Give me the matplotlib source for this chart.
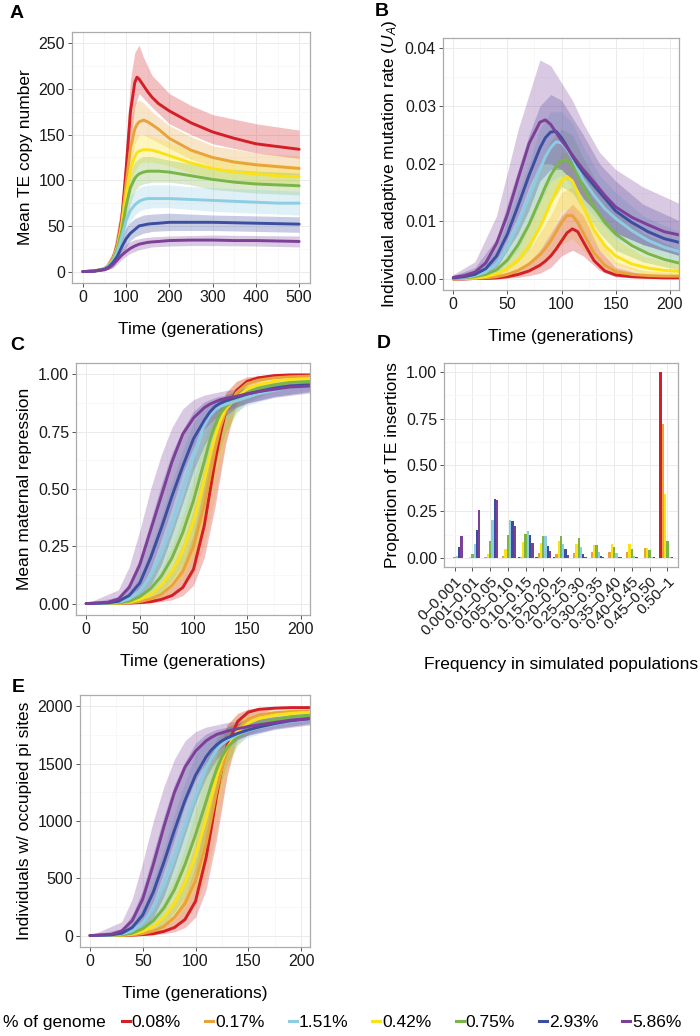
import matplotlib
matplotlib.use('Agg')
import numpy as np
import matplotlib.pyplot as plt
from matplotlib.lines import Line2D
from matplotlib.ticker import MultipleLocator

plt.rcParams['font.family'] = ['Liberation Sans', 'DejaVu Sans']
plt.rcParams['mathtext.fontset'] = 'custom'
plt.rcParams['mathtext.it'] = 'Liberation Sans:italic'
plt.rcParams['mathtext.rm'] = 'Liberation Sans'

# series in order of % genome
series = ['0.08%', '0.17%', '0.42%', '0.75%', '1.51%', '2.93%', '5.86%']
colors = ['#D41F26', '#E8A33A', '#FBE216', '#7AB547', '#8CCDE3', '#3B4EA0', '#7D3F98']
legend_order = ['0.08%', '0.17%', '1.51%', '0.42%', '0.75%', '2.93%', '5.86%']

# ---- A: mean TE copy number ----
t_a = [0, 25, 50, 60, 70, 80, 90, 100, 110, 120, 125, 130, 140, 150, 160, 175, 200, 250, 300, 350, 400, 450, 500]
a_mean = [
    [0, 0.5, 3, 7, 15, 30, 58, 112, 175, 207, 213, 211, 204, 197, 191, 184, 176, 163, 153, 146, 140, 137, 134],
    [0, 0.5, 3, 7, 14, 28, 54, 96, 135, 156, 161, 164, 166, 164, 161, 156, 146, 133, 125, 120, 117, 115, 113],
    [0, 0.5, 3, 7, 14, 27, 50, 84, 112, 126, 130, 132, 133.5, 133.5, 133, 131, 127, 119, 113, 109, 107, 105, 104],
    [0, 0.5, 3, 6.5, 13, 25, 45, 72, 92, 102, 105, 107, 109, 110, 110, 110, 109, 105, 101, 98, 96, 95, 94],
    [0, 0.5, 3, 6, 12, 22, 38, 56, 67, 73, 75, 77, 79, 80, 80, 80, 80, 79, 78, 77, 76, 75, 75],
    [0, 0.5, 2.5, 5, 10, 17, 27, 36, 42, 46, 48, 50, 51, 52, 52.5, 53, 54, 54, 54, 53.5, 53, 52.5, 52],
    [0, 0.4, 2, 4, 8, 13, 18, 22, 25.5, 28, 29, 30, 31, 32, 32.5, 33, 34, 34.5, 34.5, 34, 34, 33.5, 33],
]
tb_a = [0, 50, 70, 90, 100, 110, 120, 130, 140, 160, 200, 250, 300, 400, 500]
a_lo = [
    [0, 2, 10, 40, 80, 140, 180, 195, 190, 180, 162, 150, 140, 130, 124],
    [0, 2, 9, 35, 70, 110, 140, 150, 150, 145, 135, 123, 115, 108, 104],
    [0, 2, 8, 32, 62, 92, 110, 118, 120, 120, 116, 108, 103, 98, 95],
    [0, 2, 7, 30, 55, 75, 88, 94, 96, 98, 98, 95, 90, 86, 84],
    [0, 1.5, 6, 25, 42, 55, 62, 66, 68, 70, 70, 68, 66, 64, 62],
    [0, 1, 5, 18, 27, 34, 38, 40, 42, 44, 45, 45, 45, 44, 43],
    [0, 1, 4, 13, 17, 20, 22, 24, 25, 27, 28, 28.5, 28.5, 28, 27],
]
a_hi = [
    [0, 5, 22, 75, 140, 210, 240, 248, 235, 215, 195, 182, 172, 162, 155],
    [0, 5, 20, 70, 120, 165, 185, 188, 185, 175, 160, 148, 138, 130, 127],
    [0, 5, 18, 62, 105, 135, 148, 150, 150, 148, 142, 132, 126, 120, 116],
    [0, 4, 16, 56, 90, 110, 120, 124, 126, 126, 122, 118, 114, 110, 108],
    [0, 4, 14, 50, 72, 83, 88, 92, 94, 95, 95, 93, 92, 90, 88],
    [0, 3, 12, 38, 48, 54, 58, 60, 62, 63, 64, 63, 62, 61, 60],
    [0, 3, 10, 25, 30, 33, 35, 36, 37, 38, 39, 39.5, 40, 39.5, 39],
]

# ---- B: individual adaptive mutation rate ----
t_b = [0, 10, 20, 30, 40, 50, 60, 70, 80, 85, 90, 95, 100, 105, 110, 115, 120, 130, 140, 150, 165, 180, 195, 210]
b_mean = [
    [0, 0, 0.0001, 0.0001, 0.0002, 0.0004, 0.0008, 0.0014, 0.0024, 0.0031, 0.0040, 0.0052, 0.0066, 0.0080, 0.0087, 0.0082, 0.0065, 0.0032, 0.0014, 0.0007, 0.0004, 0.0003, 0.0002, 0.0002],
    [0, 0.0001, 0.0001, 0.0002, 0.0004, 0.0008, 0.0015, 0.0026, 0.0042, 0.0053, 0.0066, 0.0082, 0.0098, 0.0110, 0.0110, 0.0098, 0.0080, 0.0045, 0.0024, 0.0013, 0.0008, 0.0006, 0.0005, 0.0005],
    [0.0001, 0.0001, 0.0002, 0.0004, 0.0009, 0.0018, 0.0033, 0.0057, 0.0090, 0.0110, 0.0132, 0.0152, 0.0170, 0.0178, 0.0170, 0.0150, 0.0125, 0.0085, 0.0058, 0.0040, 0.0026, 0.0019, 0.0015, 0.0013],
    [0.0001, 0.0002, 0.0004, 0.0008, 0.0016, 0.0033, 0.0060, 0.0095, 0.0138, 0.0160, 0.0180, 0.0195, 0.0205, 0.0207, 0.0198, 0.0180, 0.0160, 0.0125, 0.0098, 0.0078, 0.0058, 0.0044, 0.0034, 0.0027],
    [0.0002, 0.0003, 0.0006, 0.0012, 0.0027, 0.0055, 0.0095, 0.0142, 0.0190, 0.0212, 0.0228, 0.0238, 0.0236, 0.0226, 0.0210, 0.0190, 0.0172, 0.0145, 0.0122, 0.0105, 0.0084, 0.0067, 0.0055, 0.0047],
    [0.0002, 0.0004, 0.0008, 0.0018, 0.0040, 0.0078, 0.0128, 0.0180, 0.0227, 0.0245, 0.0255, 0.0256, 0.0245, 0.0230, 0.0213, 0.0198, 0.0185, 0.0162, 0.0140, 0.0118, 0.0098, 0.0082, 0.0070, 0.0063],
    [0.0003, 0.0006, 0.0012, 0.0028, 0.0062, 0.0112, 0.0175, 0.0235, 0.0272, 0.0276, 0.0268, 0.0254, 0.0240, 0.0228, 0.0215, 0.0202, 0.0190, 0.0168, 0.0145, 0.0125, 0.0107, 0.0094, 0.0082, 0.0076],
]
tb_b = [0, 20, 40, 60, 70, 80, 90, 100, 110, 120, 135, 150, 175, 210]
b_lo = [
    [0, 0, 0, 0.0003, 0.0006, 0.001, 0.002, 0.004, 0.005, 0.004, 0.0015, 0.0004, 0.0001, 0.0001],
    [0, 0, 0.0001, 0.0006, 0.0012, 0.002, 0.004, 0.006, 0.007, 0.005, 0.002, 0.0008, 0.0003, 0.0002],
    [0, 0, 0.0003, 0.0015, 0.003, 0.005, 0.008, 0.012, 0.012, 0.009, 0.005, 0.0025, 0.001, 0.0006],
    [0, 0.0001, 0.0006, 0.003, 0.005, 0.009, 0.013, 0.016, 0.015, 0.012, 0.008, 0.005, 0.003, 0.0015],
    [0.0001, 0.0002, 0.001, 0.005, 0.009, 0.013, 0.017, 0.018, 0.016, 0.013, 0.010, 0.007, 0.005, 0.003],
    [0.0001, 0.0003, 0.002, 0.008, 0.012, 0.017, 0.019, 0.019, 0.017, 0.014, 0.011, 0.008, 0.006, 0.004],
    [0.0001, 0.0005, 0.003, 0.011, 0.016, 0.020, 0.020, 0.019, 0.017, 0.014, 0.011, 0.008, 0.006, 0.004],
]
b_hi = [
    [0.0001, 0.0002, 0.0006, 0.0016, 0.003, 0.005, 0.008, 0.011, 0.013, 0.011, 0.005, 0.002, 0.0008, 0.0005],
    [0.0001, 0.0003, 0.001, 0.003, 0.005, 0.008, 0.011, 0.015, 0.016, 0.013, 0.007, 0.003, 0.0015, 0.001],
    [0.0002, 0.0006, 0.002, 0.006, 0.010, 0.014, 0.018, 0.022, 0.022, 0.018, 0.011, 0.007, 0.004, 0.0025],
    [0.0003, 0.001, 0.003, 0.010, 0.015, 0.020, 0.024, 0.026, 0.025, 0.021, 0.016, 0.012, 0.008, 0.005],
    [0.0005, 0.0014, 0.005, 0.015, 0.020, 0.026, 0.029, 0.029, 0.027, 0.023, 0.018, 0.015, 0.011, 0.008],
    [0.0006, 0.002, 0.007, 0.019, 0.025, 0.030, 0.032, 0.031, 0.028, 0.025, 0.020, 0.017, 0.013, 0.010],
    [0.0008, 0.003, 0.011, 0.026, 0.032, 0.038, 0.037, 0.034, 0.031, 0.027, 0.022, 0.019, 0.016, 0.013],
]

# ---- C: mean maternal repression ----
t_c = [0, 20, 30, 40, 50, 60, 70, 80, 90, 100, 110, 115, 120, 125, 130, 140, 150, 160, 175, 190, 210]
c_mean = [
    [0, 0, 0.001, 0.002, 0.004, 0.008, 0.018, 0.035, 0.07, 0.15, 0.34, 0.48, 0.62, 0.74, 0.84, 0.93, 0.97, 0.985, 0.995, 0.998, 0.998],
    [0, 0, 0.001, 0.003, 0.008, 0.02, 0.04, 0.08, 0.14, 0.25, 0.43, 0.55, 0.67, 0.77, 0.84, 0.92, 0.96, 0.975, 0.985, 0.99, 0.993],
    [0, 0, 0.002, 0.006, 0.018, 0.04, 0.08, 0.14, 0.23, 0.36, 0.54, 0.64, 0.73, 0.8, 0.85, 0.9, 0.935, 0.955, 0.97, 0.978, 0.982],
    [0, 0.001, 0.003, 0.01, 0.03, 0.065, 0.12, 0.2, 0.31, 0.45, 0.62, 0.71, 0.78, 0.83, 0.86, 0.895, 0.92, 0.94, 0.955, 0.965, 0.97],
    [0, 0.002, 0.006, 0.02, 0.055, 0.12, 0.22, 0.35, 0.5, 0.65, 0.78, 0.82, 0.845, 0.86, 0.87, 0.885, 0.9, 0.915, 0.93, 0.945, 0.955],
    [0, 0.003, 0.01, 0.035, 0.09, 0.2, 0.33, 0.47, 0.6, 0.72, 0.8, 0.835, 0.86, 0.875, 0.885, 0.9, 0.915, 0.925, 0.94, 0.95, 0.955],
    [0, 0.005, 0.02, 0.07, 0.17, 0.32, 0.47, 0.62, 0.74, 0.81, 0.855, 0.87, 0.88, 0.89, 0.895, 0.905, 0.915, 0.925, 0.935, 0.945, 0.95],
]
tb_c = [0, 30, 40, 50, 60, 70, 80, 90, 100, 110, 120, 130, 140, 150, 175, 210]
c_lo = [
    [0, 0, 0, 0.001, 0.003, 0.008, 0.016, 0.035, 0.08, 0.2, 0.42, 0.7, 0.88, 0.95, 0.99, 0.995],
    [0, 0, 0, 0.002, 0.006, 0.015, 0.035, 0.07, 0.13, 0.25, 0.46, 0.7, 0.86, 0.93, 0.975, 0.985],
    [0, 0, 0.001, 0.005, 0.015, 0.035, 0.07, 0.12, 0.21, 0.35, 0.55, 0.74, 0.85, 0.9, 0.95, 0.97],
    [0, 0, 0.002, 0.008, 0.025, 0.05, 0.1, 0.17, 0.28, 0.43, 0.6, 0.75, 0.83, 0.88, 0.93, 0.955],
    [0, 0, 0.005, 0.02, 0.05, 0.1, 0.19, 0.31, 0.46, 0.6, 0.72, 0.8, 0.84, 0.865, 0.9, 0.93],
    [0, 0, 0.01, 0.03, 0.08, 0.17, 0.3, 0.44, 0.58, 0.69, 0.77, 0.82, 0.855, 0.875, 0.905, 0.925],
    [0, 0, 0.02, 0.06, 0.15, 0.28, 0.42, 0.57, 0.68, 0.76, 0.81, 0.84, 0.86, 0.875, 0.9, 0.92],
]
c_hi = [
    [0, 0.002, 0.005, 0.012, 0.025, 0.05, 0.09, 0.17, 0.3, 0.52, 0.77, 0.92, 0.97, 0.99, 1.0, 1.0],
    [0, 0.003, 0.008, 0.02, 0.045, 0.09, 0.16, 0.26, 0.41, 0.6, 0.8, 0.92, 0.97, 0.985, 0.995, 1.0],
    [0, 0.006, 0.015, 0.04, 0.08, 0.15, 0.25, 0.38, 0.54, 0.71, 0.84, 0.91, 0.94, 0.96, 0.98, 0.99],
    [0, 0.01, 0.025, 0.06, 0.12, 0.21, 0.33, 0.47, 0.63, 0.76, 0.86, 0.91, 0.935, 0.95, 0.97, 0.98],
    [0, 0.02, 0.05, 0.12, 0.24, 0.38, 0.53, 0.67, 0.79, 0.86, 0.89, 0.905, 0.92, 0.93, 0.955, 0.97],
    [0, 0.03, 0.09, 0.2, 0.36, 0.52, 0.66, 0.76, 0.84, 0.88, 0.9, 0.91, 0.925, 0.935, 0.955, 0.97],
    [0, 0.06, 0.16, 0.32, 0.5, 0.65, 0.77, 0.85, 0.89, 0.91, 0.92, 0.93, 0.935, 0.94, 0.955, 0.97],
]

# ---- D: frequency distribution of TE insertions ----
freq_bins = ['0\u20130.001', '0.001\u20130.01', '0.01\u20130.05', '0.05\u20130.10', '0.10\u20130.15',
             '0.15\u20130.20', '0.20\u20130.25', '0.25\u20130.30', '0.30\u20130.35', '0.35\u20130.40',
             '0.40\u20130.45', '0.45\u20130.50', '0.50\u20131']
d_prop = [
    [0, 0, 0, 0, 0.002, 0.003, 0.002, 0.001, 0.001, 0, 0, 0, 1.0],
    [0, 0, 0.002, 0.008, 0.005, 0.025, 0.02, 0.025, 0.03, 0.03, 0.03, 0.055, 0.72],
    [0, 0.002, 0.02, 0.045, 0.085, 0.08, 0.09, 0.075, 0.07, 0.072, 0.075, 0.055, 0.345],
    [0.002, 0.02, 0.088, 0.12, 0.13, 0.115, 0.115, 0.105, 0.068, 0.06, 0.045, 0.04, 0.09],
    [0.01, 0.075, 0.205, 0.205, 0.145, 0.118, 0.075, 0.06, 0.03, 0.025, 0.01, 0.005, 0.005],
    [0.06, 0.15, 0.318, 0.2, 0.12, 0.065, 0.045, 0.02, 0.01, 0.006, 0.003, 0.002, 0.002],
    [0.115, 0.255, 0.31, 0.17, 0.08, 0.035, 0.015, 0.005, 0.003, 0.002, 0.001, 0.001, 0.001],
]

# ---- E: individuals with occupied pi sites ----
e_mean = [
    [0, 0, 1, 3, 8, 16, 36, 70, 140, 300, 680, 940, 1220, 1470, 1660, 1870, 1950, 1975, 1985, 1990, 1990],
    [0, 0, 2, 6, 16, 40, 80, 160, 280, 480, 800, 1030, 1260, 1460, 1610, 1800, 1890, 1925, 1945, 1955, 1960],
    [0, 1, 4, 12, 36, 80, 160, 280, 460, 700, 1020, 1210, 1380, 1530, 1640, 1780, 1855, 1895, 1925, 1940, 1950],
    [0, 2, 6, 20, 60, 130, 240, 400, 620, 880, 1170, 1320, 1450, 1560, 1640, 1740, 1800, 1845, 1885, 1910, 1925],
    [0, 4, 12, 40, 110, 240, 440, 690, 960, 1220, 1460, 1550, 1620, 1670, 1705, 1755, 1790, 1815, 1845, 1870, 1890],
    [0, 6, 20, 70, 180, 380, 640, 920, 1180, 1400, 1560, 1620, 1665, 1700, 1725, 1765, 1795, 1820, 1850, 1875, 1895],
    [0, 10, 40, 130, 320, 620, 950, 1250, 1470, 1610, 1700, 1730, 1755, 1770, 1785, 1805, 1825, 1840, 1860, 1880, 1895],
]
e_lo = [
    [0, 0, 0, 2, 6, 16, 32, 70, 160, 400, 840, 1400, 1760, 1900, 1980, 1985],
    [0, 0, 0, 4, 12, 30, 70, 140, 260, 500, 920, 1400, 1720, 1860, 1950, 1970],
    [0, 0, 2, 10, 30, 70, 140, 240, 420, 700, 1100, 1480, 1700, 1800, 1900, 1940],
    [0, 0, 4, 16, 50, 100, 200, 340, 560, 860, 1200, 1500, 1660, 1760, 1860, 1910],
    [0, 0, 10, 40, 100, 200, 380, 620, 920, 1200, 1440, 1600, 1680, 1730, 1800, 1860],
    [0, 0, 20, 60, 160, 340, 600, 880, 1160, 1380, 1540, 1640, 1710, 1750, 1810, 1850],
    [0, 0, 40, 120, 300, 560, 840, 1140, 1360, 1510, 1610, 1680, 1720, 1750, 1800, 1840],
]
e_hi = [
    [0, 4, 10, 24, 50, 100, 180, 340, 600, 1040, 1540, 1840, 1940, 1980, 2000, 2000],
    [0, 6, 16, 40, 90, 180, 320, 520, 820, 1200, 1600, 1840, 1940, 1970, 1990, 2000],
    [0, 12, 30, 80, 160, 300, 500, 760, 1080, 1420, 1680, 1820, 1880, 1920, 1960, 1980],
    [0, 20, 50, 120, 240, 420, 660, 940, 1260, 1520, 1720, 1820, 1870, 1900, 1940, 1960],
    [0, 40, 100, 240, 480, 760, 1060, 1340, 1580, 1720, 1780, 1810, 1840, 1860, 1910, 1940],
    [0, 60, 180, 400, 720, 1040, 1320, 1520, 1680, 1760, 1800, 1820, 1850, 1870, 1910, 1940],
    [0, 120, 320, 640, 1000, 1300, 1540, 1700, 1780, 1820, 1840, 1860, 1870, 1880, 1910, 1940],
]

W, H = 700, 1036
fig = plt.figure(figsize=(W / 100, H / 100), dpi=100)


def box(l, t, r, b):
    return [l / W, 1 - b / H, (r - l) / W, (b - t) / H]


def style(ax, xminor=None, yminor=None):
    ax.set_axisbelow(True)
    ax.grid(True, which='major', color='#EBEBEB', lw=0.7)
    if xminor:
        ax.xaxis.set_minor_locator(MultipleLocator(xminor))
    if yminor:
        ax.yaxis.set_minor_locator(MultipleLocator(yminor))
    ax.grid(True, which='minor', color='#F6F6F6', lw=0.5)
    for s in ax.spines.values():
        s.set_color('#ABABAB')
        s.set_linewidth(0.9)
    ax.tick_params(which='major', direction='out', length=3, width=0.7, color='#555555',
                   labelsize=11.5, labelcolor='#1A1A1A', pad=2)
    ax.tick_params(which='minor', length=0)


def draw_time(ax, t, mean, tb, lo, hi):
    for i in range(len(series)):
        ax.fill_between(tb, lo[i], hi[i], color=colors[i], alpha=0.28, lw=0)
    for i in range(len(series)):
        ax.plot(t, mean[i], color=colors[i], lw=2.1, solid_capstyle='round')


# A
axA = fig.add_axes(box(72, 32, 310, 283))
draw_time(axA, t_a, a_mean, tb_a, a_lo, a_hi)
axA.set_xlim(-25, 525)
axA.set_ylim(-12.5, 262.5)
axA.xaxis.set_major_locator(MultipleLocator(100))
axA.yaxis.set_major_locator(MultipleLocator(50))
style(axA, 50, 25)
axA.set_ylabel('Mean TE copy number', fontsize=12.5)
axA.set_xlabel('Time (generations)', fontsize=12.5, labelpad=12)

# B
axB = fig.add_axes(box(443, 38, 679, 290))
draw_time(axB, t_b, b_mean, tb_b, b_lo, b_hi)
axB.set_xlim(-9.5, 208.5)
axB.set_ylim(-0.0019, 0.0418)
axB.xaxis.set_major_locator(MultipleLocator(50))
axB.yaxis.set_major_locator(MultipleLocator(0.01))
axB.yaxis.set_major_formatter(plt.FormatStrFormatter('%.2f'))
style(axB, 25, 0.005)
axB.set_ylabel(r'Individual adaptive mutation rate ($U_A$)', fontsize=12.5)
axB.set_xlabel('Time (generations)', fontsize=12.5, labelpad=12)

# C
axC = fig.add_axes(box(76, 363, 310, 615))
draw_time(axC, t_c, c_mean, tb_c, c_lo, c_hi)
axC.set_xlim(-9.5, 208.5)
axC.set_ylim(-0.05, 1.05)
axC.xaxis.set_major_locator(MultipleLocator(50))
axC.yaxis.set_major_locator(MultipleLocator(0.25))
axC.yaxis.set_major_formatter(plt.FormatStrFormatter('%.2f'))
style(axC, 25, 0.125)
axC.set_ylabel('Mean maternal repression', fontsize=12.5)
axC.set_xlabel('Time (generations)', fontsize=12.5, labelpad=12)

# D
axD = fig.add_axes(box(444, 363, 678, 567))
xpos = np.arange(len(freq_bins))
bw = 0.9 / len(series)
for i in range(len(series)):
    axD.bar(xpos + (i - 3) * bw, d_prop[i], width=bw, color=colors[i], lw=0)
axD.set_xlim(-0.6, len(freq_bins) - 0.4)
axD.set_ylim(-0.05, 1.05)
axD.yaxis.set_major_locator(MultipleLocator(0.25))
axD.yaxis.set_major_formatter(plt.FormatStrFormatter('%.2f'))
style(axD, None, 0.125)
axD.set_xticks(xpos)
axD.set_xticklabels(freq_bins, rotation=45, ha='right', rotation_mode='anchor', fontsize=11)
axD.set_ylabel('Proportion of TE insertions', fontsize=12.5)
axD.set_xlabel('Frequency in simulated populations', fontsize=12.5, labelpad=14)

# E
axE = fig.add_axes(box(80, 695, 310, 947))
draw_time(axE, t_c, e_mean, tb_c, e_lo, e_hi)
axE.set_xlim(-9.5, 208.5)
axE.set_ylim(-100, 2100)
axE.xaxis.set_major_locator(MultipleLocator(50))
axE.yaxis.set_major_locator(MultipleLocator(500))
style(axE, 25, 250)
axE.set_ylabel('Individuals w/ occupied pi sites', fontsize=12.5)
axE.set_xlabel('Time (generations)', fontsize=12.5, labelpad=12)

# panel letters
for letter, (px, py) in zip('ABCDE', [(10, 13), (375, 12), (10, 345), (377, 343), (12, 687)]):
    fig.text(px / W, 1 - py / H, letter, fontsize=14, fontweight='bold', va='center', ha='left')

# legend
fig.text(3 / W, 1 - 1022 / H, '% of genome', fontsize=12.5, va='center', ha='left')
handles = [Line2D([], [], color=colors[series.index(s)], lw=2.2) for s in legend_order]
fig.legend(handles, legend_order, loc='center left', bbox_to_anchor=(122 / W, 1 - 1022 / H),
           ncol=7, frameon=False, fontsize=12.5, handlelength=0.46, handletextpad=0.1,
           columnspacing=1.4, borderpad=0, borderaxespad=0)

fig.savefig('out.png', dpi=100)
